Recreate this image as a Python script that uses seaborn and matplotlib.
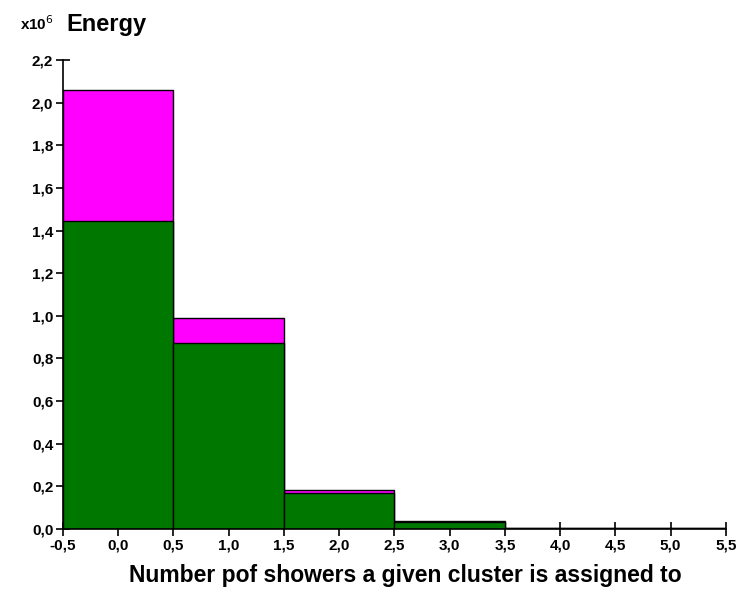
import matplotlib
matplotlib.use("Agg")
import matplotlib.pyplot as plt
import seaborn as sns
import numpy as np
from matplotlib.ticker import FuncFormatter, MultipleLocator

# Bin centres (number of showers) and summed energy per bin (units of 1e6)
showers = [0, 1, 2, 3, 4, 5]
energy_all = [2.06, 0.99, 0.183, 0.036, 0.004, 0.004]
energy_assigned = [1.445, 0.872, 0.170, 0.034, 0.004, 0.004]
bin_edges = [-0.5, 0.5, 1.5, 2.5, 3.5, 4.5, 5.5]

sns.set_style("white")
plt.rcParams["font.family"] = ["Liberation Sans", "DejaVu Sans"]
plt.rcParams["text.color"] = "black"
plt.rcParams["axes.labelcolor"] = "black"
plt.rcParams["xtick.color"] = "black"
plt.rcParams["ytick.color"] = "black"

fig = plt.figure(figsize=(7.43, 5.97), dpi=100)
ax = fig.add_axes([0.0848, 0.1139, 0.8922, 0.7856])

sns.histplot(x=showers, weights=energy_all, bins=bin_edges, ax=ax,
             color="#ff00ff", alpha=1, edgecolor="black", linewidth=1.0)
sns.histplot(x=showers, weights=energy_assigned, bins=bin_edges, ax=ax,
             color="#007800", alpha=1, edgecolor="black", linewidth=1.0)

ax.set_xlim(-0.5, 5.5)
ax.set_ylim(0, 2.2)
ax.xaxis.set_major_locator(MultipleLocator(0.5))
ax.yaxis.set_major_locator(MultipleLocator(0.2))
comma = FuncFormatter(lambda v, p: f"{v:.1f}".replace(".", ","))
ax.xaxis.set_major_formatter(comma)
ax.yaxis.set_major_formatter(comma)

for side in ("top", "right"):
    ax.spines[side].set_visible(False)
for side in ("left", "bottom"):
    ax.spines[side].set_color("black")
    ax.spines[side].set_linewidth(1.2)

ax.tick_params(axis="both", bottom=True, left=True, direction="inout",
               length=10, width=1.2, color="black", labelcolor="black",
               labelsize=11, pad=2)
for lab in ax.get_xticklabels() + ax.get_yticklabels():
    lab.set_fontweight("bold")
ax.set_ylabel("")
ax.set_xlabel("Number pof showers a given cluster is assigned to",
              fontsize=16.5, fontweight="bold", color="black")
ax.xaxis.set_label_coords(0.517, -0.075)

fig.text(0.027, 0.950, r"x10$^{6}$", fontsize=11, fontweight="bold",
         color="black", ha="left", va="baseline")
fig.text(0.089, 0.948, "Energy", fontsize=17, fontweight="bold",
         color="black", ha="left", va="baseline")

fig.savefig("out.png", dpi=100, facecolor="white")
